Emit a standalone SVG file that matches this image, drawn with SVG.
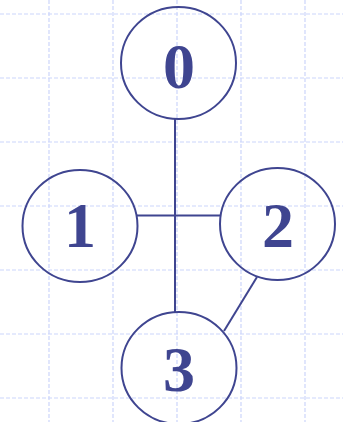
<svg xmlns="http://www.w3.org/2000/svg" width="343" height="422" viewBox="0 0 343 422">
<style>
.grid line{stroke:#ccd5fb;stroke-width:1.2;stroke-dasharray:4 2}
.node ellipse{fill:none;stroke:#3f4590;stroke-width:2}
.node text{font-family:"Liberation Serif","Times New Roman",serif;font-weight:bold;font-size:64px;fill:#3f4590;text-anchor:middle}
.edges line{stroke:#3f4590;stroke-width:2}
</style>
<rect width="343" height="422" fill="#fff"/>
<g class="grid">
<line x1="49" y1="0" x2="49" y2="422"/>
<line x1="113" y1="0" x2="113" y2="422"/>
<line x1="177" y1="0" x2="177" y2="422"/>
<line x1="241" y1="0" x2="241" y2="422"/>
<line x1="305" y1="0" x2="305" y2="422"/>
<line x1="0" y1="14" x2="343" y2="14"/>
<line x1="0" y1="78" x2="343" y2="78"/>
<line x1="0" y1="142" x2="343" y2="142"/>
<line x1="0" y1="206" x2="343" y2="206"/>
<line x1="0" y1="270" x2="343" y2="270"/>
<line x1="0" y1="334" x2="343" y2="334"/>
<line x1="0" y1="398" x2="343" y2="398"/>
</g>
<g class="edges">
<line x1="175" y1="119" x2="175" y2="312"/>
<line x1="137" y1="215.5" x2="221" y2="215.5"/>
<line x1="257" y1="277" x2="224" y2="331"/>
</g>
<g id="node0" class="node"><ellipse cx="178.5" cy="63" rx="57.5" ry="56"/><text x="179" y="88">0</text></g>
<g id="node1" class="node"><ellipse cx="80" cy="226" rx="57.5" ry="56"/><text x="80" y="247">1</text></g>
<g id="node2" class="node"><ellipse cx="277.5" cy="224" rx="57.5" ry="56"/><text x="278" y="247">2</text></g>
<g id="node3" class="node"><ellipse cx="179" cy="368" rx="57.5" ry="56"/><text x="179" y="391">3</text></g>
</svg>
